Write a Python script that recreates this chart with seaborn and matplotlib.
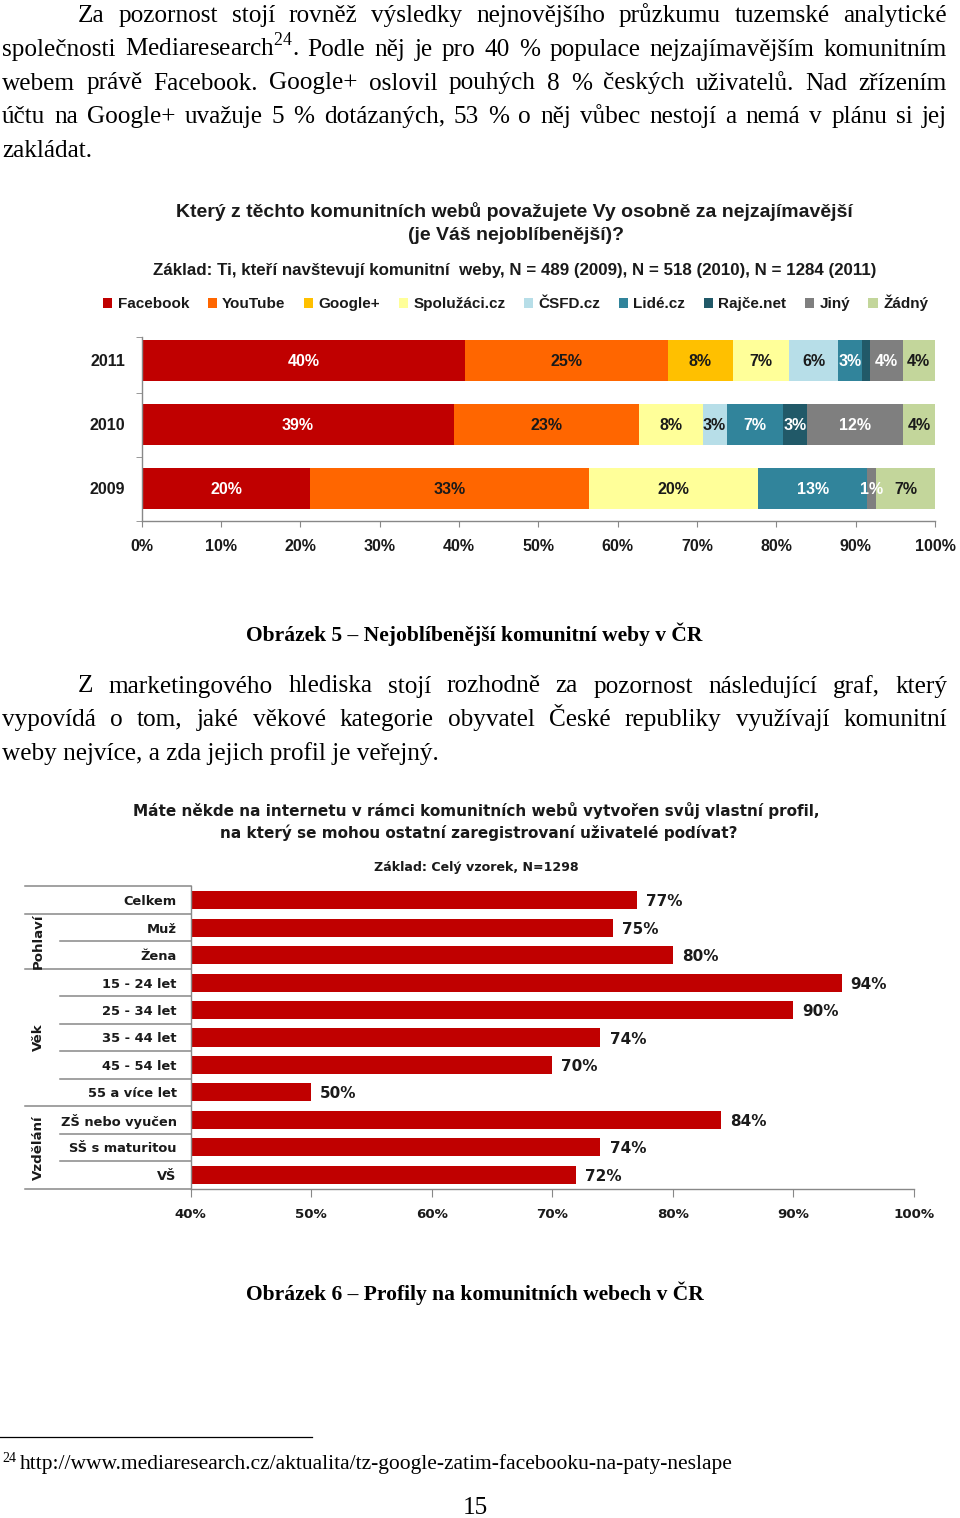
import matplotlib
matplotlib.use("Agg")
import matplotlib.pyplot as plt
from matplotlib.patches import Patch
import numpy as np
import pandas as pd
import seaborn as sns


# chart 1: favourite social network (share of respondents, %)
years = ["2011", "2010", "2009"]
sites = ["Facebook", "YouTube", "Google+", "Spolužáci.cz", "ČSFD.cz", "Lidé.cz", "Rajče.net", "Jiný", "Žádný"]
facebook = [40, 39, 20]
youtube = [25, 23, 33]
google = [8, 0, 0]
spoluzaci = [7, 8, 20]
csfd = [6, 3, 0]
lide = [3, 7, 13]
rajce = [1, 3, 0]
jiny = [4, 12, 1]
zadny = [4, 4, 7]
site_colors = ["#C00000", "#FF6600", "#FFC000", "#FFFF99", "#B7DEE8", "#31849B", "#215968", "#7F7F7F", "#C3D69B"]
white_label_sites = ["Facebook", "Lidé.cz", "Rajče.net", "Jiný"]
unlabeled = [("Rajče.net", "2011")]

# chart 2: own profile on a social network (%)
profile_cats = ["Celkem", "Muž", "Žena", "15 - 24 let", "25 - 34 let", "35 - 44 let",
                "45 - 54 let", "55 a více let", "ZŠ nebo vyučen", "SŠ s maturitou", "VŠ"]
profile_groups = ["", "Pohlaví", "Pohlaví", "Věk", "Věk", "Věk", "Věk", "Věk", "Vzdělání", "Vzdělání", "Vzdělání"]
profile_pct = [77, 75, 80, 94, 90, 74, 70, 50, 84, 74, 72]

# page text
par1 = [
	"Za pozornost stojí rovněž výsledky nejnovějšího průzkumu tuzemské analytické",
	"společnosti Mediaresearch$^{\\mathrm{24}}$. Podle něj je pro 40 % populace nejzajímavějším komunitním",
	"webem právě Facebook. Google+ oslovil pouhých 8 % českých uživatelů. Nad zřízením",
	"účtu na Google+ uvažuje 5 % dotázaných, 53 % o něj vůbec nestojí a nemá v plánu si jej",
	"zakládat.",
]
par2 = [
	"Z marketingového hlediska stojí rozhodně za pozornost následující graf, který",
	"vypovídá o tom, jaké věkové kategorie obyvatel České republiky využívají komunitní",
	"weby nejvíce, a zda jejich profil je veřejný.",
]
caption1 = "Obrázek 5 – Nejoblíbenější komunitní weby v ČR"
caption2 = "Obrázek 6 – Profily na komunitních webech v ČR"
title1 = ["Který z těchto komunitních webů považujete Vy osobně za nejzajímavější", "(je Váš nejoblíbenější)?"]
base1 = "Základ: Ti, kteří navštevují komunitní  weby, N = 489 (2009), N = 518 (2010), N = 1284 (2011)"
title2 = ["Máte někde na internetu v rámci komunitních webů vytvořen svůj vlastní profil,",
          "na který se mohou ostatní zaregistrovaní uživatelé podívat?"]
base2 = "Základ: Celý vzorek, N=1298"
footnote = "http://www.mediaresearch.cz/aktualita/tz-google-zatim-facebooku-na-paty-neslape"

SERIF = "Liberation Serif"
SANS1 = "Liberation Sans"
SANS2 = "DejaVu Sans"
INK = "#1a1a1a"
AXIS = "#888888"
BODY = 18.2

plt.rcParams["mathtext.fontset"] = "custom"
plt.rcParams["mathtext.rm"] = SERIF

W, H = 960, 1518
fig = plt.figure(figsize=(W / 100, H / 100), dpi=100)
r = fig.canvas.get_renderer()

page = fig.add_axes([0, 0, 1, 1])
page.set_xlim(0, W)
page.set_ylim(H, 0)
page.axis("off")


def fit(t, width):
	t.set_fontsize(t.get_fontsize() * width / t.get_window_extent(r).width)
	return t.get_fontsize()


def justify(lines, y0, step, x_indent, x0=2, x1=947, size=BODY):
	for k, line in enumerate(lines):
		y = y0 + k * step
		start = x_indent if k == 0 else x0
		if k == len(lines) - 1:
			page.text(start, y, line, family=SERIF, fontsize=size, va="baseline", ha="left")
			continue
		words = line.split(" ")
		objs = [page.text(start, y, w, family=SERIF, fontsize=size, va="baseline", ha="left") for w in words]
		widths = [o.get_window_extent(r).width for o in objs]
		gap = (x1 - start - sum(widths)) / (len(words) - 1)
		x = start
		for o, w in zip(objs, widths):
			o.set_x(x)
			x += w + gap


justify(par1, 21.7, 33.9, 78)
justify(par2, 692.5, 33.9, 78)

# captions
c1 = page.text(474.5, 641, caption1, family=SERIF, fontweight="bold", fontsize=14, ha="center", va="baseline")
cs = fit(c1, 457)
page.text(475, 1300, caption2, family=SERIF, fontweight="bold", fontsize=cs, ha="center", va="baseline")

# footnote + page number
page.plot([0, 312], [1437, 1437], color="black", lw=0.9)
page.text(2, 1462, "24", family=SERIF, fontsize=10, va="baseline")
fn = page.text(20, 1469, footnote, family=SERIF, fontsize=12, va="baseline")
fit(fn, 715)
page.text(475, 1514, "15", family=SERIF, fontsize=BODY, ha="center", va="baseline")

# ---------- chart 1: 100% stacked bars ----------
t = page.text(514.5, 217, title1[0], family=SANS1, fontweight="bold", fontsize=14, color=INK, ha="center", va="baseline")
ts = fit(t, 677)
page.text(515.5, 240, title1[1], family=SANS1, fontweight="bold", fontsize=ts, color=INK, ha="center", va="baseline")
t = page.text(514.5, 275, base1, family=SANS1, fontweight="bold", fontsize=11, color=INK, ha="center", va="baseline")
fit(t, 725)

counts = pd.DataFrame(
	[facebook, youtube, google, spoluzaci, csfd, lide, rajce, jiny, zadny], index=sites, columns=years
).T
shares = counts.div(counts.sum(axis=1), axis=0) * 100
cum = shares.cumsum(axis=1)
cum_df = cum.reset_index().rename(columns={"index": "year"})

ax1 = fig.add_axes([141.7 / W, 1 - 520.5 / H, (935 - 141.7) / W, 192 / H])
# draw cumulative totals from the right-most series down so each segment stays visible
for site, color in reversed(list(zip(sites, site_colors))):
	sns.barplot(data=cum_df, x=site, y="year", order=years, color=color, saturation=1,
	            width=0.64, orient="h", errorbar=None, ax=ax1)

for i, yr in enumerate(years):
	for site in sites:
		v = counts.loc[yr, site]
		if v == 0 or (site, yr) in unlabeled:
			continue
		xc = cum.loc[yr, site] - shares.loc[yr, site] / 2
		col = "white" if site in white_label_sites else INK
		ax1.text(xc, i, f"{v}%", ha="center", va="center_baseline", color=col,
		         family=SANS1, fontweight="bold", fontsize=11.5)

ax1.set_xlim(0, 100)
ax1.set_ylim(2.5, -0.5)
ax1.set_xticks(np.arange(0, 101, 10))
ax1.set_xticklabels([f"{v}%" for v in range(0, 101, 10)])
ax1.set_yticks(range(len(years)))
ax1.set_yticklabels(years)
ax1.set_yticks([-0.36, 0.5, 1.5, 2.5], minor=True)
ax1.set_xlabel("")
ax1.set_ylabel("")
ax1.set_facecolor("none")
for s in ["top", "right"]:
	ax1.spines[s].set_visible(False)
for s in ["left", "bottom"]:
	ax1.spines[s].set_color(AXIS)
	ax1.spines[s].set_linewidth(1)
ax1.spines["left"].set_bounds(2.5, -0.36)
ax1.tick_params(axis="y", which="major", length=0, pad=12)
ax1.tick_params(axis="y", which="minor", length=4, color=AXIS, direction="out")
ax1.tick_params(axis="x", length=4, color=AXIS, pad=9)
for lab in ax1.get_xticklabels() + ax1.get_yticklabels():
	lab.set_family(SANS1)
	lab.set_fontweight("bold")
	lab.set_fontsize(11.5)
	lab.set_color(INK)

# legend row, column spacing stretched so it spans the same width as the original
handles = [Patch(facecolor=c, edgecolor="none") for c in site_colors]
leg_kw = dict(ncol=len(sites), loc="center left", bbox_to_anchor=(103 / W, 1 - 303 / H),
              frameon=False, prop=dict(family=SANS1, weight="bold", size=11),
              handlelength=0.6, handleheight=0.6, handletextpad=0.35,
              borderpad=0, borderaxespad=0)
leg = fig.legend(handles, sites, columnspacing=1.2, **leg_kw)
lw = leg.get_window_extent(r).width
leg.remove()
spacing = 1.2 + (825 - lw) / (len(sites) - 1) / (11 * 100 / 72)
leg = fig.legend(handles, sites, columnspacing=spacing, **leg_kw)
for txt in leg.get_texts():
	txt.set_color(INK)

# ---------- chart 2: profile bars ----------
t = page.text(476.5, 816, title2[0], family=SANS2, fontweight="bold", fontsize=12, color=INK, ha="center", va="baseline")
ts2 = fit(t, 687)
page.text(478.5, 838, title2[1], family=SANS2, fontweight="bold", fontsize=ts2, color=INK, ha="center", va="baseline")
t = page.text(476, 871, base2, family=SANS2, fontweight="bold", fontsize=10, color=INK, ha="center", va="baseline")
fit(t, 206)

ax2 = fig.add_axes([190.5 / W, 1 - 1188.5 / H, (914 - 190.5) / W, (1188.5 - 886.5) / H])
sns.barplot(x=profile_pct, y=profile_cats, color="#C00000", saturation=1, width=0.66,
            orient="h", errorbar=None, ax=ax2)
for i, v in enumerate(profile_pct):
	ax2.text(v + 0.75, i, f"{v}%", va="center_baseline", ha="left", family=SANS2,
	         fontweight="bold", fontsize=11, color=INK)

ax2.set_xlim(40, 100)
ax2.set_ylim(len(profile_cats) - 0.5, -0.5)
ax2.set_xticks(np.arange(40, 101, 10))
ax2.set_xticklabels([f"{v}%" for v in range(40, 101, 10)])
ax2.set_facecolor("none")
for s in ["top", "right"]:
	ax2.spines[s].set_visible(False)
for s in ["left", "bottom"]:
	ax2.spines[s].set_color(AXIS)
	ax2.spines[s].set_linewidth(1)
ax2.tick_params(axis="y", length=0, pad=10)
ax2.tick_params(axis="x", length=6, color=AXIS, pad=8)
for lab in ax2.get_xticklabels():
	lab.set_family(SANS2)
	lab.set_fontweight("bold")
	lab.set_fontsize(9.6)
	lab.set_color(INK)
for lab in ax2.get_yticklabels():
	lab.set_family(SANS2)
	lab.set_fontweight("bold")
	lab.set_fontsize(9.4)
	lab.set_color(INK)

# table-like separators on the left of chart 2
tr = ax2.get_yaxis_transform()
x_full = (25 - 190.5) / (914 - 190.5)
x_in = (60 - 190.5) / (914 - 190.5)
n = len(profile_cats)
for b in range(n + 1):
	full = b == 0 or b == n or profile_groups[b] != profile_groups[b - 1]
	ax2.plot([x_full if full else x_in, 0], [b - 0.5, b - 0.5], transform=tr,
	         color=AXIS, lw=1.1, clip_on=False)
grp = pd.Series(range(n)).groupby(pd.Series(profile_groups)).mean()
for name, yc in grp.items():
	if name == "":
		continue
	ax2.text((38 - 190.5) / (914 - 190.5), yc, name, transform=tr, rotation=90,
	         ha="center", va="center", family=SANS2, fontweight="bold", fontsize=9.6, color=INK)

fig.savefig("out.png", dpi=100)
